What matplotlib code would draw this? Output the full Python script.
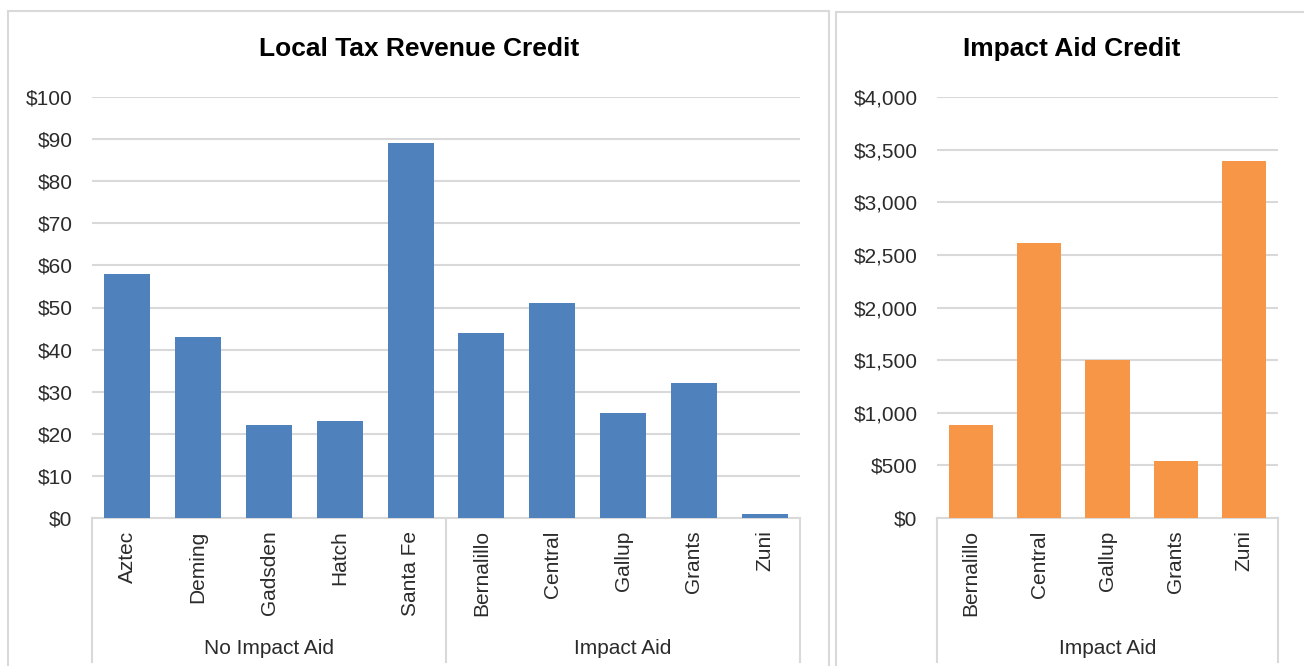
import matplotlib
matplotlib.use("Agg")
import matplotlib.pyplot as plt
from matplotlib.patches import Rectangle
from matplotlib.ticker import FuncFormatter, MultipleLocator
import matplotlib.transforms as mtransforms

plt.rcParams['font.family'] = ['Liberation Sans', 'DejaVu Sans']

# ---- data ----
left_title = "Local Tax Revenue Credit"
left_districts = ["Aztec", "Deming", "Gadsden", "Hatch", "Santa Fe",
                  "Bernalillo", "Central", "Gallup", "Grants", "Zuni"]
left_values = [58, 43, 22, 23, 89, 44, 51, 25, 32, 1]
left_groups = ["No Impact Aid", "Impact Aid"]
left_group_sizes = [5, 5]

right_title = "Impact Aid Credit"
right_districts = ["Bernalillo", "Central", "Gallup", "Grants", "Zuni"]
right_values = [880, 2615, 1500, 540, 3390]
right_groups = ["Impact Aid"]
right_group_sizes = [5]

W, H = 1304, 666
fig = plt.figure(figsize=(W / 100, H / 100), dpi=100)

GRID = '#D9D9D9'
TXT = '#2b2b2b'

def fx(px):
    return px / W

def fy(py):
    return 1 - py / H

# panel borders
fig.patches.append(Rectangle((fx(8), fy(700)), fx(829 - 8), fy(11) - fy(700),
                             transform=fig.transFigure, fill=False,
                             edgecolor=GRID, linewidth=1.5))
fig.patches.append(Rectangle((fx(836), fy(700)), fx(1320 - 836), fy(12) - fy(700),
                             transform=fig.transFigure, fill=False,
                             edgecolor=GRID, linewidth=1.5))


def make_panel(x0, x1, title, title_x, names, values, groups, sizes,
               color, ymax, step, fmt):
    ax = fig.add_axes([fx(x0), fy(518), fx(x1 - x0), fy(97) - fy(518)])
    n = len(names)
    ax.bar(range(n), values, width=0.65, color=color, zorder=3)
    ax.set_xlim(-0.5, n - 0.5)
    ax.set_ylim(0, ymax)
    ax.yaxis.set_major_locator(MultipleLocator(step))
    ax.yaxis.set_major_formatter(FuncFormatter(fmt))
    ax.grid(axis='y', color=GRID, linewidth=1.5, zorder=0)
    ax.set_axisbelow(True)
    for s in ['left', 'right', 'top']:
        ax.spines[s].set_visible(False)
    ax.spines['bottom'].set_color(GRID)
    ax.spines['bottom'].set_linewidth(1.5)
    ax.tick_params(axis='y', length=0, pad=14, labelsize=15, labelcolor=TXT)
    ax.set_xticks(range(n))
    ax.set_xticklabels(names, rotation=90, va='top', ha='center')
    ax.tick_params(axis='x', length=0, pad=9, labelsize=15, labelcolor=TXT)

    trans = mtransforms.blended_transform_factory(ax.transData, ax.transAxes)
    ybot = (518 - 662) / (518 - 97)
    ylab = (518 - 648) / (518 - 97)
    edges = [-0.5]
    for s in sizes:
        edges.append(edges[-1] + s)
    for e in edges:
        ax.plot([e, e], [0, ybot], transform=trans, color=GRID,
                linewidth=1.5, clip_on=False)
    for i, g in enumerate(groups):
        xc = (edges[i] + edges[i + 1]) / 2
        ax.text(xc, ylab, g, transform=trans, ha='center', va='center',
                fontsize=15, color=TXT)
    fig.text(fx(title_x), fy(49), title, ha='center', va='center',
             fontsize=19, fontweight='bold', color='black')
    return ax


make_panel(92, 800, left_title, 419, left_districts, left_values,
           left_groups, left_group_sizes, '#4F81BD', 100, 10,
           lambda v, p: f"${v:,.0f}")
make_panel(937, 1278, right_title, 1072, right_districts, right_values,
           right_groups, right_group_sizes, '#F79646', 4000, 500,
           lambda v, p: f"${v:,.0f}")

fig.savefig("out.png", dpi=100)
